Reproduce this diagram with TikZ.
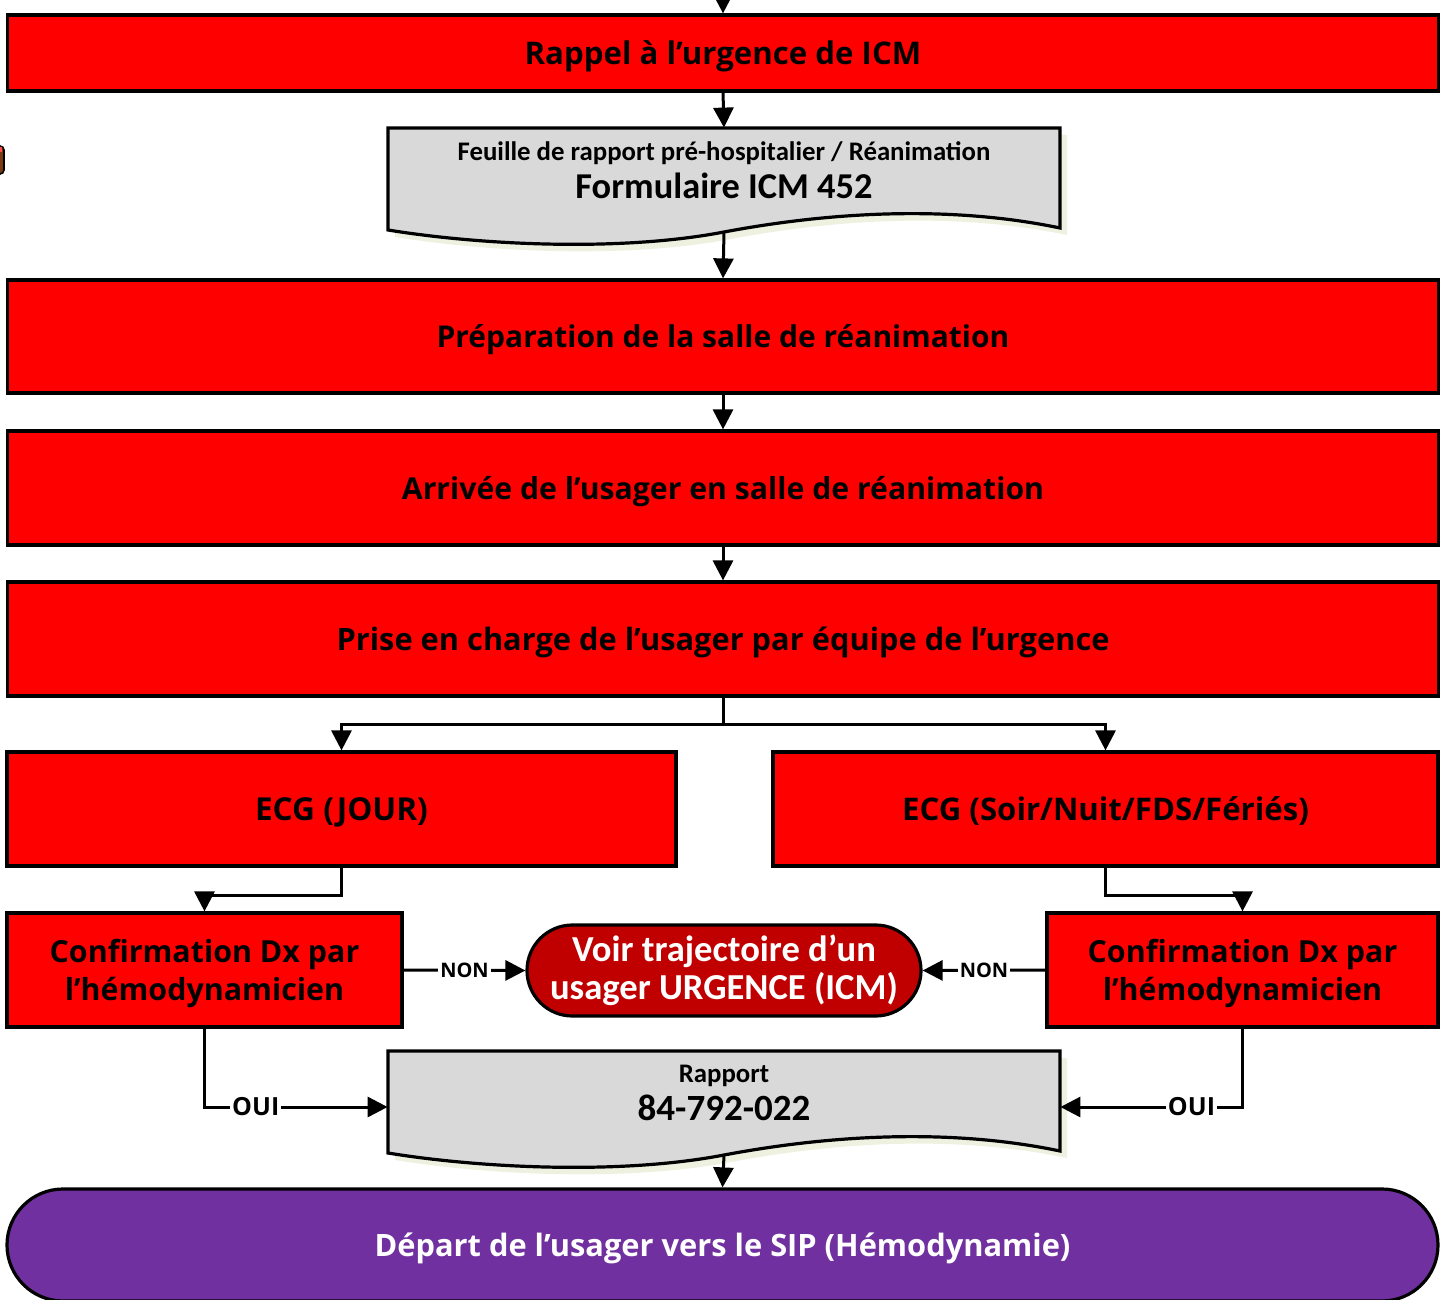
\documentclass[tikz,border=0pt]{standalone}
\usepackage{fontspec}
\setmainfont{Open Sans}
\newfontfamily\carl{Carlito}
\usetikzlibrary{arrows.meta,shapes.misc}
\definecolor{boxred}{HTML}{FF0000}
\definecolor{darkred}{HTML}{C00000}
\definecolor{purp}{HTML}{7030A0}
\definecolor{docgrey}{HTML}{D9D9D9}
\definecolor{shadowc}{HTML}{EEF1DF}
\definecolor{brownc}{HTML}{7B3A10}
\tikzset{
  redbox/.style={draw=black, fill=boxred, line width=1.6pt, inner sep=0pt, align=center, text depth=0pt, font=\bfseries\fontsize{15.2}{19}\selectfont},
  confbox/.style={redbox, font=\bfseries\fontsize{15.2}{19}\selectfont},
  docbox/.style={draw=none, inner sep=0pt, minimum width=336pt, minimum height=52pt},
  doctext/.style={align=center, inner sep=0pt},
  docline/.style={draw=black, fill=docgrey, line width=1.6pt, line join=miter},
  arr/.style={line width=1.5pt, -{Triangle[length=10pt,width=10pt]}},
  plain/.style={line width=1.5pt},
  lbl/.style={fill=white, inner sep=1pt, font=\bfseries\fontsize{10}{12}\selectfont},
  lblb/.style={fill=white, inner sep=1pt, font=\bfseries\fontsize{12.5}{14}\selectfont},
}
\begin{document}
\begin{tikzpicture}[x=0.5pt,y=-0.5pt]
\useasboundingbox (0,0) rectangle (1440,1300);

% small brown object at left edge
\fill[brownc, draw=black, line width=0.8pt, rounded corners=2pt] (-10,146) rectangle (4,174);
\fill[red!70!white] (-10,147) rectangle (2,152);

% main boxes
\node[redbox, font=\bfseries\fontsize{15.6}{19}\selectfont, minimum width=715.5pt, minimum height=38pt] (b1) at (723,53) {Rappel à l’urgence de ICM};

% document 1
\node[docbox] (doc1) at (724,180) {};
\fill[shadowc] (395,135) -- (1067,135) -- (1067,235) .. controls (957,212) and (837,219) .. (731,239) .. controls (627,259) and (487,252) .. (395,237) -- cycle;
\draw[docline] (388,128) -- (1060,128) -- (1060,228) .. controls (950,205) and (830,212) .. (724,232) .. controls (620,252) and (480,245) .. (388,230) -- cycle;
\node[doctext] (doc1t) at (724,170) {{\carl\bfseries\fontsize{13.4}{15}\selectfont Feuille de rapport pré-hospitalier / Réanimation}\\[3pt]{\carl\bfseries\fontsize{18.2}{19}\selectfont Formulaire ICM 452}};

\node[redbox, font=\bfseries\fontsize{15.0}{19}\selectfont, minimum width=715.5pt, minimum height=56.5pt] (b2) at (723,336.5) {Préparation de la salle de réanimation};
\node[redbox, font=\bfseries\fontsize{15.1}{19}\selectfont, minimum width=715.5pt, minimum height=57pt] (b3) at (723,488) {Arrivée de l’usager en salle de réanimation};
\node[redbox, font=\bfseries\fontsize{15.4}{19}\selectfont, minimum width=715.5pt, minimum height=57pt] (b4) at (723,639) {Prise en charge de l’usager par équipe de l’urgence};

\node[redbox, font=\bfseries\fontsize{15.8}{19}\selectfont, minimum width=334.5pt, minimum height=57pt] (ecgL) at (341.5,809) {ECG (JOUR)};
\node[redbox, font=\bfseries\fontsize{15.6}{19}\selectfont, minimum width=332.5pt, minimum height=57pt] (ecgR) at (1105.5,809) {ECG (Soir/Nuit/FDS/Fériés)};

\node[confbox, minimum width=197.5pt, minimum height=57pt] (confL) at (204.5,970) {Confirmation Dx par\\l’hémodynamicien};
\node[confbox, minimum width=195.5pt, minimum height=57pt] (confR) at (1242.5,970) {Confirmation Dx par\\l’hémodynamicien};

\node[rounded rectangle, draw=black, fill=darkred, line width=1.6pt, minimum width=197pt, minimum height=45.5pt, inner sep=0pt, align=center, text=white, font=\carl\bfseries\fontsize{18.3}{19}\selectfont] (voir) at (724,970.5) {Voir trajectoire d’un\\usager URGENCE (ICM)};

% document 2
\node[docbox] (doc2) at (724,1103) {};
\fill[shadowc] (395,1058) -- (1067,1058) -- (1067,1158) .. controls (957,1135) and (837,1142) .. (731,1162) .. controls (627,1182) and (487,1175) .. (395,1160) -- cycle;
\draw[docline] (388,1051) -- (1060,1051) -- (1060,1151) .. controls (950,1128) and (830,1135) .. (724,1155) .. controls (620,1175) and (480,1168) .. (388,1153) -- cycle;
\node[doctext] (doc2t) at (724,1093) {{\carl\bfseries\fontsize{13.4}{15}\selectfont Rapport}\\[3pt]{\carl\bfseries\fontsize{18.5}{19}\selectfont 84-792-022}};

\node[rounded rectangle, draw=black, fill=purp, line width=1.6pt, minimum width=715.5pt, minimum height=56pt, inner sep=0pt, text=white, text depth=0pt, font=\bfseries\fontsize{15.4}{19}\selectfont] (dep) at (722.5,1245) {Départ de l’usager vers le SIP (Hémodynamie)};

% connectors
\coordinate (top) at (723,-5);
\draw[arr] (top) -- (b1.north);
\draw[arr] (b1.south) -- (doc1.north);
\draw[arr] (doc1.south) -- (b2.north);
\draw[arr] (b2.south) -- (b3.north);
\draw[arr] (b3.south) -- (b4.north);
\coordinate (split) at (723,724);
\draw[plain] (b4.south) -- (split);
\draw[arr] (split) -| (ecgL.north);
\draw[arr] (split) -| (ecgR.north);
\draw[arr] (ecgL.south) -- ++(0,28) -| (confL.north);
\draw[arr] (ecgR.south) -- ++(0,28) -| (confR.north);
\draw[arr] (confL.east) -- node[lbl]{NON} (voir.west);
\draw[arr] (confR.west) -- node[lbl]{NON} (voir.east);
\draw[arr] (confL.south) |- node[lblb, pos=0.64]{OUI} ([yshift=-2pt]doc2.west);
\draw[arr] (confR.south) |- node[lblb, pos=0.64]{OUI} ([yshift=-2pt]doc2.east);
\draw[arr] (doc2.south) -- (dep.north);
\end{tikzpicture}
\end{document}
